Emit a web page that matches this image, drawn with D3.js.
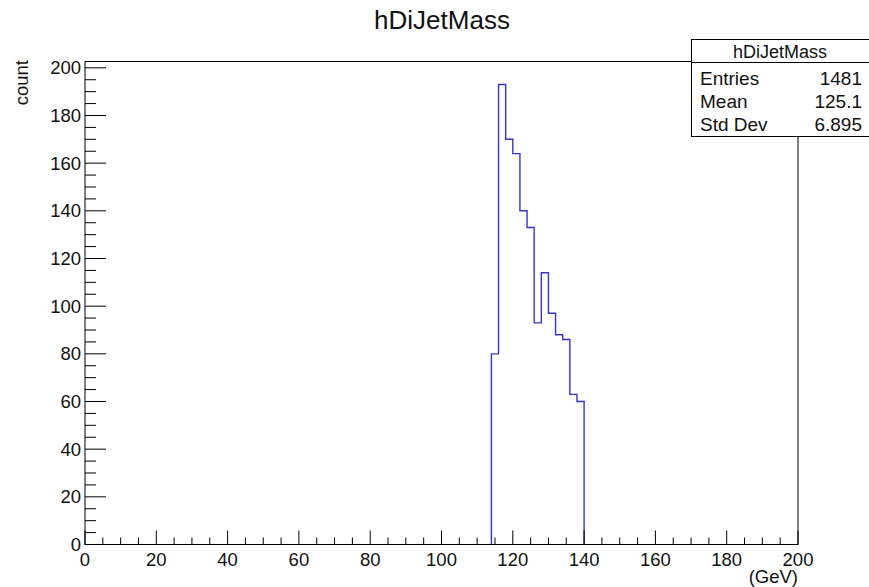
<!DOCTYPE html>
<html>
<head>
<meta charset="utf-8">
<script src="https://cdn.jsdelivr.net/npm/d3@7.9.0/dist/d3.min.js"></script>
<style>
  body { margin: 0; background: #fff; }
  svg { display: block; font-family: "Liberation Sans", Arial, sans-serif; }
</style>
</head>
<body>
<svg id="chart" width="869" height="587"></svg>
<script>
// bins are 2 GeV wide, only the non-empty ones are listed
const binLow = [114, 116, 118, 120, 122, 124, 126, 128, 130, 132, 134, 136, 138];
const counts = [80, 193, 170, 164, 140, 133, 93, 114, 97, 88, 86, 63, 60];
const binWidth = 2;
const xTicks = [0, 20, 40, 60, 80, 100, 120, 140, 160, 180, 200];
const yTicks = [0, 20, 40, 60, 80, 100, 120, 140, 160, 180, 200];
const statLabels = ["Entries", "Mean", "Std Dev"];
const statValues = ["1481", "125.1", "6.895"];
const histName = "hDiJetMass";

const svg = d3.select("#chart");
const frame = { left: 85, right: 798, top: 61.5, bottom: 544.5 };

const x = d3.scaleLinear().domain([0, 200]).range([frame.left, frame.right]);
const y = d3.scaleLinear().domain([0, d3.max(counts) * 1.05]).range([frame.bottom, frame.top]);

// frame box
svg.append("rect")
  .attr("x", frame.left).attr("y", frame.top)
  .attr("width", frame.right - frame.left).attr("height", frame.bottom - frame.top)
  .attr("fill", "none").attr("stroke", "#000").attr("stroke-width", 1);

// histogram outline as a step line
const pts = [[binLow[0], 0]];
binLow.forEach((lo, i) => {
  pts.push([lo, counts[i]]);
  pts.push([lo + binWidth, counts[i]]);
});
pts.push([binLow[binLow.length - 1] + binWidth, 0]);

svg.append("path")
  .attr("d", d3.line().x((d) => x(d[0])).y((d) => y(d[1]))(pts))
  .attr("fill", "none")
  .attr("stroke", "#3535cc")
  .attr("stroke-width", 1.4);

// x axis: major ticks every 20, minor every 5
const xMinor = d3.range(0, 201, 5).filter((v) => v % 20 !== 0);
const xAxis = svg.append("g");
xAxis.append("line")
  .attr("x1", frame.left).attr("x2", frame.right)
  .attr("y1", frame.bottom).attr("y2", frame.bottom)
  .attr("stroke", "#000");
xAxis.selectAll(".maj").data(xTicks).enter().append("line")
  .attr("x1", (d) => x(d)).attr("x2", (d) => x(d))
  .attr("y1", frame.bottom).attr("y2", frame.bottom - 14)
  .attr("stroke", "#000");
xAxis.selectAll(".min").data(xMinor).enter().append("line")
  .attr("x1", (d) => x(d)).attr("x2", (d) => x(d))
  .attr("y1", frame.bottom).attr("y2", frame.bottom - 7)
  .attr("stroke", "#000");
xAxis.selectAll("text").data(xTicks).enter().append("text")
  .attr("x", (d) => x(d)).attr("y", frame.bottom + 21)
  .attr("text-anchor", "middle")
  .attr("font-size", 18.5)
  .attr("fill", "#111")
  .text((d) => d);

svg.append("text")
  .attr("x", frame.right).attr("y", 583)
  .attr("text-anchor", "end")
  .attr("font-size", 18.5)
  .attr("fill", "#111")
  .text("(GeV)");

// y axis: major ticks every 20, minor every 5
const yMinor = d3.range(0, 201, 5).filter((v) => v % 20 !== 0);
const yAxis = svg.append("g");
yAxis.selectAll(".maj").data(yTicks).enter().append("line")
  .attr("x1", frame.left).attr("x2", frame.left + 21)
  .attr("y1", (d) => y(d)).attr("y2", (d) => y(d))
  .attr("stroke", "#000");
yAxis.selectAll(".min").data(yMinor).enter().append("line")
  .attr("x1", frame.left).attr("x2", frame.left + 11)
  .attr("y1", (d) => y(d)).attr("y2", (d) => y(d))
  .attr("stroke", "#000");
yAxis.selectAll("text").data(yTicks).enter().append("text")
  .attr("x", frame.left - 4)
  .attr("y", (d) => y(d) + 6.5)
  .attr("text-anchor", "end")
  .attr("font-size", 18.5)
  .attr("fill", "#111")
  .text((d) => d);

svg.append("text")
  .attr("transform", `translate(28, 60) rotate(-90)`)
  .attr("text-anchor", "end")
  .attr("font-size", 18.5)
  .attr("fill", "#111")
  .text("count");

// title
svg.append("text")
  .attr("x", 442).attr("y", 29)
  .attr("text-anchor", "middle")
  .attr("font-size", 26)
  .attr("fill", "#111")
  .text(histName);

// stats box
const box = { left: 691.5, top: 39.5, right: 870, head: 62.5, bottom: 136.5 };
svg.append("rect")
  .attr("x", box.left).attr("y", box.top)
  .attr("width", box.right - box.left).attr("height", box.bottom - box.top)
  .attr("fill", "#fff").attr("stroke", "#000");
svg.append("line")
  .attr("x1", box.left).attr("x2", box.right)
  .attr("y1", box.head).attr("y2", box.head)
  .attr("stroke", "#000");
svg.append("text")
  .attr("x", 780).attr("y", 58)
  .attr("text-anchor", "middle")
  .attr("font-size", 18)
  .attr("fill", "#111")
  .text(histName);

const rows = svg.selectAll(".stat").data(statLabels).enter().append("g");
rows.append("text")
  .attr("x", 700).attr("y", (_, i) => 84.5 + i * 23)
  .attr("font-size", 19)
  .attr("fill", "#111")
  .text((d) => d);
rows.append("text")
  .attr("x", 862).attr("y", (_, i) => 84.5 + i * 23)
  .attr("text-anchor", "end")
  .attr("font-size", 19)
  .attr("fill", "#111")
  .text((_, i) => statValues[i]);
</script>
</body>
</html>
